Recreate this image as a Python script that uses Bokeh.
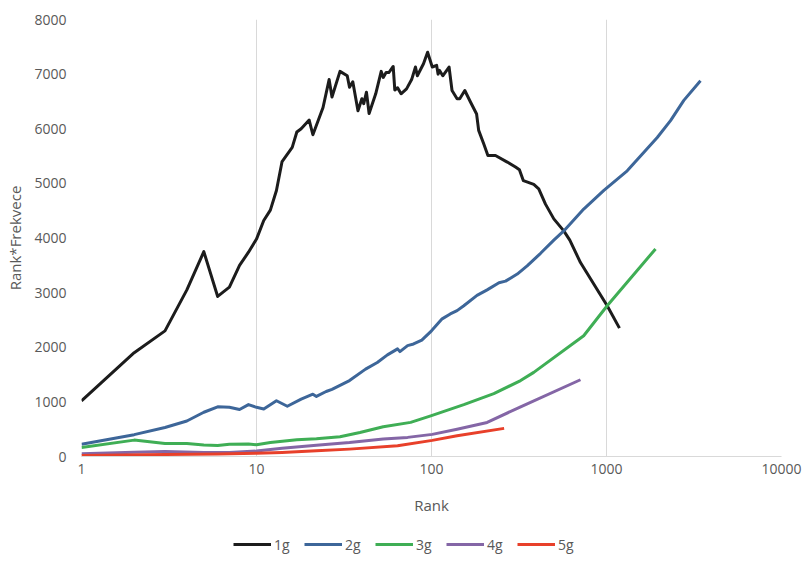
from bokeh.plotting import figure
from bokeh.layouts import column
from bokeh.models import (Range1d, FixedTicker, PrintfTickFormatter, Legend,
                          LegendItem, SingleIntervalTicker)
from bokeh.embed import file_html
from bokeh.resources import INLINE

# Rank vs. Rank*Frequency for n-grams of length 1..5
rank_1g = [1, 2, 3, 4, 5, 6, 7, 8, 9, 10, 11, 12, 13, 14, 16, 17, 18, 20, 21,
           24, 26, 27, 30, 33, 34, 35.5, 38, 40, 41, 42.5, 44, 48, 51.6, 53,
           55, 57, 58, 60.4, 61.7, 64, 67, 72, 77, 81, 83, 90, 95, 101, 107,
           109, 111, 116, 126, 131, 140, 145, 155, 167, 181, 186, 199, 210,
           232, 271, 302, 318, 335, 384, 410, 448, 500, 570, 617, 710, 1009,
           1186]
val_1g = [1020, 1900, 2300, 3050, 3750, 2930, 3100, 3500, 3740, 3980, 4320,
          4510, 4870, 5400, 5660, 5940, 6000, 6160, 5890, 6390, 6900, 6580,
          7050, 6970, 6760, 6860, 6330, 6550, 6460, 6670, 6280, 6640, 7050,
          6940, 7030, 7030, 7060, 7140, 6710, 6750, 6640, 6730, 6900, 7130,
          6970, 7190, 7400, 7130, 7160, 7000, 7070, 6970, 7130, 6700, 6550,
          6550, 6700, 6490, 6270, 5970, 5720, 5510, 5510, 5390, 5300, 5250,
          5050, 4980, 4900, 4620, 4350, 4130, 3960, 3550, 2760, 2350]

rank_2g = [1, 2, 3, 4, 5, 6, 7, 8, 9, 10, 11, 13, 15, 18, 21, 22, 25, 27, 34,
           42, 49, 56, 64, 66, 73, 79, 88, 100, 115, 128, 140, 153, 182, 208,
           243, 265, 309, 352, 420, 500, 570, 741, 966, 1313, 1950, 2322,
           2766, 3444]
val_2g = [225, 400, 530, 650, 810, 910, 900, 860, 950, 900, 870, 1020, 920,
          1050, 1140, 1100, 1190, 1230, 1390, 1600, 1720, 1860, 1970, 1920,
          2030, 2060, 2130, 2300, 2520, 2610, 2670, 2760, 2950, 3050, 3180,
          3210, 3340, 3490, 3720, 3960, 4130, 4530, 4870, 5230, 5840, 6150,
          6520, 6880]

rank_3g = [1, 2, 3, 4, 5, 6, 7, 9, 10, 12, 17, 22, 30, 39, 53, 76, 99, 153,
           227, 323, 384, 741, 1009, 1906]
val_3g = [165, 300, 240, 240, 210, 200, 225, 230, 215, 255, 305, 325, 360,
          440, 545, 625, 745, 950, 1150, 1390, 1540, 2210, 2760, 3800]

rank_4g = [1, 2, 3, 5, 7, 10, 14, 22, 34, 53, 73, 101, 140, 208, 323, 710]
val_4g = [50, 80, 90, 75, 75, 100, 150, 205, 255, 320, 350, 405, 500, 623,
          910, 1405]

rank_5g = [1, 3, 6, 10, 14, 22, 34, 64, 101, 140, 260]
val_5g = [20, 35, 45, 60, 73, 104, 135, 196, 295, 380, 515]

series_names = ["1g", "2g", "3g", "4g", "5g"]
series_colors = ["#1c1c1c", "#3d6699", "#3fae55", "#8466a6", "#e8402a"]
x_ticks = [1, 10, 100, 1000, 10000]

FONT = "Open Sans"
TEXT = "#595959"
GRID = "#d9d9d9"

p = figure(width=803, height=520, x_axis_type="log",
           x_range=Range1d(1, 10000), y_range=Range1d(0, 8000),
           output_backend="svg", toolbar_location=None,
           min_border_left=81, min_border_right=22, min_border_top=19,
           min_border_bottom=64)
p.outline_line_color = None
p.background_fill_color = "white"

# x axis (log scale, decade labels)
p.xaxis.ticker = FixedTicker(ticks=x_ticks, minor_ticks=[])
p.xaxis.formatter = PrintfTickFormatter(format="%d")
p.xaxis.axis_label = "Rank"
p.xaxis.axis_line_color = GRID
p.xaxis.major_label_standoff = 7
p.xaxis.axis_label_standoff = 18

# y axis
p.yaxis.ticker = SingleIntervalTicker(interval=1000, num_minor_ticks=0)
p.yaxis.axis_label = "Rank*Frekvece"
p.yaxis.axis_line_color = None
p.yaxis.major_label_standoff = 15
p.yaxis.axis_label_standoff = 6

for ax in (p.xaxis, p.yaxis):
    ax.major_tick_line_color = None
    ax.minor_tick_line_color = None
    ax.major_tick_out = 0
    ax.major_tick_in = 0
    ax.minor_tick_out = 0
    ax.minor_tick_in = 0
    ax.major_label_text_font = FONT
    ax.major_label_text_font_size = "14px"
    ax.major_label_text_color = TEXT
    ax.axis_label_text_font = FONT
    ax.axis_label_text_font_size = "15px"
    ax.axis_label_text_font_style = "normal"
    ax.axis_label_text_color = TEXT

p.xgrid.ticker = FixedTicker(ticks=x_ticks, minor_ticks=[])
p.xgrid.grid_line_color = GRID
p.xgrid.grid_line_width = 1
p.ygrid.grid_line_color = None

ranks = [rank_1g, rank_2g, rank_3g, rank_4g, rank_5g]
vals = [val_1g, val_2g, val_3g, val_4g, val_5g]
for color, r, v in zip(series_colors, ranks, vals):
    p.line(r, v, line_color=color, line_width=3, line_join="round")

# legend strip underneath the chart; its key lines carry the same series
# but sit outside this strip's ranges, so only the legend shows
leg = figure(width=803, height=43, x_range=Range1d(-2, -1),
             y_range=Range1d(-2, -1),
             output_backend="svg", toolbar_location=None,
             x_axis_location=None, y_axis_location=None,
             min_border=0, min_border_left=0, min_border_right=0,
             min_border_top=0, min_border_bottom=0)
leg.outline_line_color = None
leg.grid.visible = False

items = []
for name, color, r, v in zip(series_names, series_colors, ranks, vals):
    key = leg.line(r, v, line_color=color, line_width=3)
    items.append(LegendItem(label=name, renderers=[key]))

legend = Legend(items=items, orientation="horizontal",
                location=(152, 9), padding=0, margin=0, spacing=10,
                glyph_width=38, glyph_height=20, label_standoff=3,
                label_height=20,
                label_text_font=FONT, label_text_font_size="14px",
                label_text_color=TEXT, border_line_color=None,
                background_fill_alpha=0)
leg.add_layout(legend, "center")

layout = column(p, leg, spacing=0)
open("out.html", "w").write(file_html(layout, INLINE))
